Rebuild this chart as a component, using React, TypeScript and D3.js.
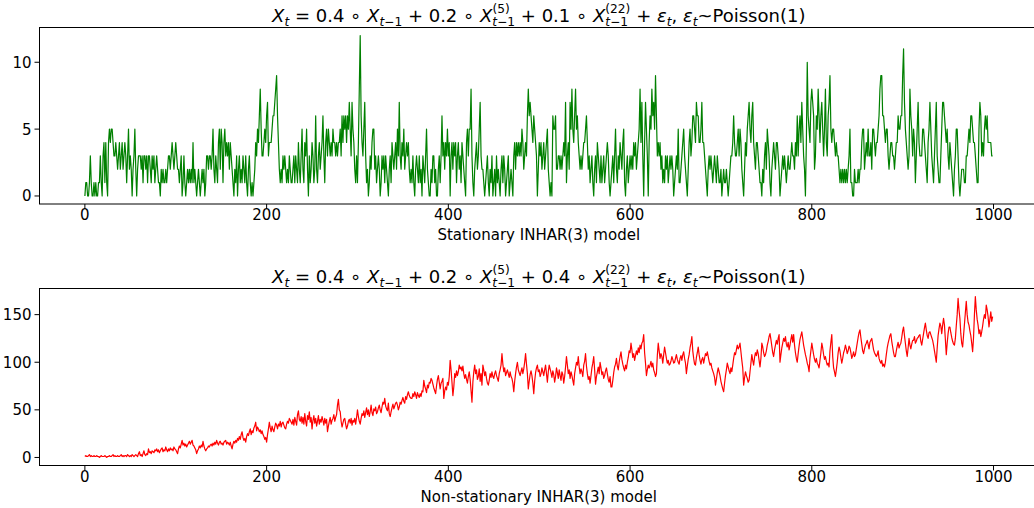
import React from 'react';
import * as d3 from 'd3';

// stationary INHAR(3) realisation, t = 0..999
const stationary = [
  0,1,1,0,0,1,3,1,0,0,1,0,1,0,0,1,1,3,1,0,
  3,4,1,4,1,0,4,5,4,5,5,4,3,3,4,3,2,3,4,2,
  3,4,2,3,4,3,1,3,5,2,3,2,0,2,3,5,2,0,2,3,
  3,3,2,3,1,3,3,2,3,1,3,3,2,1,3,2,3,1,2,3,
  2,1,1,0,2,1,2,1,1,2,1,2,3,3,2,3,4,3,2,3,
  4,3,2,2,1,2,3,0,1,3,1,0,1,2,1,2,1,2,1,4,
  1,2,1,0,1,2,1,0,1,2,1,2,0,1,3,3,2,3,3,2,
  3,5,2,1,3,2,1,4,5,2,5,4,1,4,5,3,4,3,4,2,
  4,3,2,1,0,2,1,3,0,2,3,1,2,1,3,2,1,3,1,0,
  2,3,1,0,1,0,1,2,4,3,5,4,6,8,5,3,3,4,5,4,
  6,7,3,4,4,4,5,6,6,7,8,9,6,4,2,1,2,1,3,2,
  3,2,1,2,1,3,2,1,1,2,3,1,3,2,1,4,2,1,3,5,
  2,1,4,3,5,2,0,3,1,2,4,3,1,2,6,2,1,3,4,2,
  3,4,6,3,1,4,5,3,5,4,3,4,3,5,4,4,3,4,3,4,
  4,5,3,6,4,6,5,6,4,6,5,7,5,3,7,5,4,2,1,3,
  1,4,8,12,6,4,3,5,7,3,1,2,0,1,3,2,4,5,5,2,
  3,1,2,3,2,0,1,3,2,3,1,3,2,1,0,2,3,1,4,3,
  2,3,4,2,5,3,7,3,2,4,3,5,2,3,4,3,4,2,1,2,
  1,3,1,0,2,3,2,1,3,1,2,0,3,2,1,3,5,2,1,0,
  0,2,1,3,3,1,2,0,0,2,3,1,3,6,3,4,2,4,3,5,
  3,4,0,3,4,2,4,3,4,1,3,4,2,3,1,4,3,2,1,0,
  4,5,3,5,5,8,3,1,0,2,3,4,2,3,5,7,3,2,2,1,
  0,1,2,3,1,0,2,1,3,0,1,2,0,3,1,2,1,0,2,3,
  1,3,2,0,1,2,3,0,1,2,1,0,3,4,2,4,3,4,3,4,
  3,5,4,2,3,4,3,6,8,6,7,6,5,4,6,5,4,3,0,2,
  4,3,4,2,3,4,2,3,4,5,2,1,0,1,0,6,5,5,6,2,
  2,3,3,2,3,2,3,4,3,7,1,3,4,2,7,5,8,5,4,6,
  8,5,6,4,3,2,3,2,3,4,4,5,6,4,2,3,1,2,3,1,
  0,2,3,1,4,3,2,1,3,1,2,3,1,2,3,4,3,1,0,1,
  2,3,1,3,5,2,1,3,2,4,3,2,4,5,1,0,2,3,1,2,
  3,2,3,2,4,3,4,2,3,4,5,8,4,7,3,0,4,7,5,3,
  0,4,6,5,8,6,7,5,9,6,3,4,3,4,2,3,1,2,1,3,
  2,3,1,2,3,2,3,2,0,1,2,3,2,5,1,1,2,3,4,5,
  3,2,1,0,2,4,5,3,4,6,6,5,4,7,6,6,4,4,5,7,
  4,4,3,2,1,0,2,3,2,3,2,1,2,3,2,1,3,2,1,1,
  2,0,1,2,1,1,2,1,0,1,2,3,3,4,6,4,3,3,4,5,
  3,5,4,2,1,0,2,4,3,5,6,7,5,4,6,7,4,3,2,4,
  4,3,2,1,1,0,2,1,3,4,2,5,4,3,1,0,2,3,4,3,
  2,4,4,3,2,0,1,2,3,2,3,2,1,2,3,2,2,3,4,3,
  3,2,4,3,6,3,5,6,4,7,5,3,2,0,4,10,6,5,4,7,
  8,7,6,2,3,6,5,8,6,4,6,7,5,3,5,8,4,3,6,7,
  9,5,4,5,5,4,3,4,3,3,2,1,2,1,2,1,2,1,2,1,
  2,3,5,1,1,0,0,2,1,1,1,2,1,2,2,4,5,5,2,3,
  4,3,5,3,3,4,2,5,5,4,3,4,4,5,6,8,9,9,6,6,
  5,4,5,5,3,2,3,4,4,3,3,2,3,4,4,6,5,5,6,6,
  9,11,7,5,4,3,2,3,8,6,5,3,5,4,1,3,5,7,4,3,
  3,3,5,5,4,3,2,1,4,5,7,5,3,2,1,3,5,7,3,2,
  1,1,3,5,7,7,6,5,4,5,3,2,4,3,2,1,0,2,3,5,
  5,3,1,0,1,2,2,2,1,1,3,3,4,5,4,6,6,5,4,4,
  3,2,1,1,5,7,6,3,4,3,5,6,5,6,4,4,4,4,3,3,
];

// non-stationary INHAR(3) realisation, t = 0..999
const nonStationary = [
  1,2,1,1,2,3,1,2,1,1,2,1,1,2,1,1,0,1,2,1,
  1,1,2,1,0,1,1,2,1,1,2,3,1,2,1,1,2,1,1,2,
  3,1,2,1,2,2,1,3,2,1,2,1,3,2,1,2,3,2,1,4,
  6,2,3,1,4,7,3,2,4,3,9,5,6,4,7,6,5,8,7,9,
  6,8,5,7,9,10,6,8,7,11,8,6,9,7,10,8,9,7,11,9,
  8,6,4,9,12,10,14,18,13,15,12,14,11,13,15,17,14,16,18,13,
  12,10,8,4,7,9,12,10,13,11,17,12,9,7,9,10,12,11,13,14,
  12,15,13,16,14,18,15,13,16,17,14,15,13,16,17,18,14,16,15,13,
  16,12,9,14,17,15,18,16,20,18,22,19,24,27,21,18,20,16,22,25,
  23,27,30,24,28,26,31,33,37,28,32,30,27,29,25,28,24,22,19,21,
  16,24,30,37,31,27,33,29,27,32,36,34,30,35,33,38,32,36,37,34,
  31,30,35,38,36,41,39,37,35,40,34,42,38,34,45,49,40,38,43,36,
  42,35,46,38,33,44,40,48,37,42,30,39,44,36,41,33,38,44,35,40,
  37,43,39,34,41,36,40,27,33,38,42,35,39,41,45,38,42,45,55,61,
  50,48,38,32,36,40,41,35,30,33,38,40,36,41,34,39,37,41,35,42,
  50,43,38,35,41,46,44,49,42,47,52,45,50,43,48,55,47,44,51,49,
  53,46,48,52,55,50,47,53,58,56,62,54,51,49,57,46,43,48,52,56,
  51,54,57,58,55,50,53,58,56,60,63,59,57,64,61,66,69,65,63,62,
  62,67,64,69,66,62,68,65,63,67,64,70,69,81,75,72,68,76,73,79,
  78,83,81,77,73,70,67,75,82,86,79,72,78,80,83,62,70,74,71,79,
  76,85,102,92,79,65,74,88,84,91,86,90,97,93,95,91,96,88,83,87,
  82,78,85,90,82,70,58,79,90,97,88,92,82,85,93,80,88,76,97,92,
  86,90,83,78,76,81,88,84,90,85,83,88,91,86,83,80,88,92,97,109,
  98,90,94,86,89,92,88,84,90,85,83,78,69,80,88,95,100,92,89,86,
  90,94,88,93,100,109,98,88,72,80,87,91,86,78,67,80,89,94,97,90,
  92,85,88,94,90,86,92,97,88,79,90,97,93,89,84,91,87,79,85,94,
  89,83,92,86,81,90,87,78,85,95,106,97,88,92,83,90,86,81,76,88,
  94,100,97,106,95,88,93,90,85,97,101,109,96,88,82,85,78,86,94,99,
  106,92,77,85,90,95,88,100,94,87,90,83,86,91,94,88,82,79,85,74,
  74,81,89,95,98,104,96,92,100,106,111,103,98,94,91,97,93,100,105,112,
  110,120,113,105,109,102,107,112,108,115,110,118,114,120,122,129,110,99,86,92,
  97,94,97,101,95,99,92,89,85,88,107,120,112,104,109,106,99,108,116,110,
  104,99,102,97,98,101,106,103,99,100,104,108,103,100,98,104,107,102,108,111,
  104,99,88,96,103,108,115,120,127,112,104,98,97,105,110,116,108,102,98,103,
  105,99,104,109,107,111,106,101,97,99,94,91,88,84,76,82,89,94,90,86,
  80,76,72,69,78,86,92,99,95,91,88,94,90,97,104,110,108,113,118,114,
  116,120,111,102,94,76,84,90,86,83,79,81,90,99,108,102,97,105,110,107,
  113,109,102,95,104,120,116,110,106,108,112,118,122,127,130,124,117,110,106,113,
  118,123,119,125,129,100,108,115,120,125,122,127,119,116,121,113,118,124,129,121,
  129,118,110,104,100,109,117,124,128,132,125,118,113,108,104,99,96,90,104,112,
  120,114,108,103,100,104,99,97,94,102,110,120,115,108,103,106,101,97,99,95,
  112,121,129,106,94,90,85,92,100,110,116,112,105,99,104,110,113,118,114,109,
  112,117,115,110,104,107,111,106,108,114,120,126,131,134,126,119,112,109,114,118,
  120,123,119,114,121,123,125,119,113,110,108,106,108,112,104,101,99,102,96,98,
  95,100,108,115,120,124,128,130,122,116,110,106,106,112,117,121,115,118,120,126,
  133,137,128,120,112,106,115,125,118,114,119,123,123,127,120,122,125,126,128,129,
  122,118,124,130,136,141,134,128,125,131,132,129,126,123,118,112,106,100,115,128,
  135,141,138,130,139,146,139,124,108,120,130,137,137,131,126,122,119,118,125,138,
  150,167,155,146,130,120,116,128,140,152,164,150,142,139,133,128,120,111,126,150,
  169,155,145,139,130,134,127,132,138,145,150,146,160,155,148,137,145,153,143,148,
];

const xTicks = [0, 200, 400, 600, 800, 1000];
const topYTicks = [0, 5, 10];
const bottomYTicks = [0, 50, 100, 150];
const topCoefs = ['0.4', '0.2', '0.1'];
const bottomCoefs = ['0.4', '0.2', '0.4'];

const W = 1034;
const H = 508;
const FONT = '"DejaVu Sans", sans-serif';
const LEFT = 39.5;
const RIGHT = 1038;

// matplotlib style 5% margins
const pad = ([a, b]: [number, number]) => {
  const m = (b - a) * 0.05;
  return [a - m, b + m];
};

function ModelTitle({ y, coefs }: { y: number; coefs: string[] }) {
  const ss = 12.2;
  const it = { fontStyle: 'italic' as const };
  const cx = (LEFT + RIGHT) / 2;
  return (
    <text x={cx} y={y} textAnchor="middle" fontSize={18} fontFamily={FONT} style={{ whiteSpace: 'pre' }}>
      <tspan {...it}>X</tspan>
      <tspan {...it} fontSize={ss} dy={4}>t</tspan>
      <tspan dy={-4}>{` = ${coefs[0]} ∘ `}</tspan>
      <tspan {...it}>X</tspan>
      <tspan fontSize={ss} dy={4}><tspan {...it}>t</tspan>−1</tspan>
      <tspan dy={-4}>{` + ${coefs[1]} ∘ `}</tspan>
      <tspan {...it}>X</tspan>
      <tspan fontSize={ss} dy={-9}>(5)</tspan>
      <tspan fontSize={ss} dx={-17.3} dy={13}><tspan {...it}>t</tspan>−1</tspan>
      <tspan dy={-4}>{` + ${coefs[2]} ∘ `}</tspan>
      <tspan {...it}>X</tspan>
      <tspan fontSize={ss} dy={-9}>(22)</tspan>
      <tspan fontSize={ss} dx={-25} dy={13}><tspan {...it}>t</tspan>−1</tspan>
      <tspan dx={2.3} dy={-4}>{' + '}</tspan>
      <tspan {...it}>ε</tspan>
      <tspan {...it} fontSize={ss} dy={4}>t</tspan>
      <tspan dy={-4}>{', '}</tspan>
      <tspan {...it}>ε</tspan>
      <tspan {...it} fontSize={ss} dy={4}>t</tspan>
      <tspan dy={-4}>~Poisson(1)</tspan>
    </text>
  );
}

function Panel({ data, color, top, bottom, yTicks, coefs, xlabel }: {
  data: number[]; color: string; top: number; bottom: number;
  yTicks: number[]; coefs: string[]; xlabel: string;
}) {
  const x = d3.scaleLinear().domain(pad([0, data.length - 1])).range([LEFT, RIGHT]);
  const y = d3.scaleLinear().domain(pad(d3.extent(data) as [number, number])).range([bottom, top]);
  const line = d3.line<number>().x((_, i) => x(i)).y((d) => y(d));

  return (
    <g>
      <ModelTitle y={top - 6} coefs={coefs} />
      <path d={line(data) ?? ''} fill="none" stroke={color} strokeWidth={1.2} strokeLinejoin="round" />
      <rect x={LEFT} y={top} width={RIGHT - LEFT} height={bottom - top} fill="none" stroke="#000" strokeWidth={1} />
      {xTicks.map((t) => (
        <g key={t} transform={`translate(${x(t)},${bottom})`}>
          <line y2={5} stroke="#000" />
          <text y={16} textAnchor="middle" fontSize={15} fontFamily={FONT}>{t}</text>
        </g>
      ))}
      {yTicks.map((t) => (
        <g key={t} transform={`translate(${LEFT},${y(t)})`}>
          <line x2={-5} stroke="#000" />
          <text x={-8} dy="0.36em" textAnchor="end" fontSize={15} fontFamily={FONT}>{t}</text>
        </g>
      ))}
      <text x={(LEFT + RIGHT) / 2} y={bottom + 36} textAnchor="middle" fontSize={15} fontFamily={FONT}>{xlabel}</text>
    </g>
  );
}

export default function App() {
  return (
    <svg width={W} height={H} style={{ display: 'block', position: 'absolute', left: 0, top: 0, background: '#fff' }}>
      <Panel data={stationary} color="#008000" top={27.5} bottom={204} yTicks={topYTicks}
        coefs={topCoefs} xlabel="Stationary INHAR(3) model" />
      <Panel data={nonStationary} color="#ff0000" top={288.5} bottom={465.5} yTicks={bottomYTicks}
        coefs={bottomCoefs} xlabel="Non-stationary INHAR(3) model" />
    </svg>
  );
}
